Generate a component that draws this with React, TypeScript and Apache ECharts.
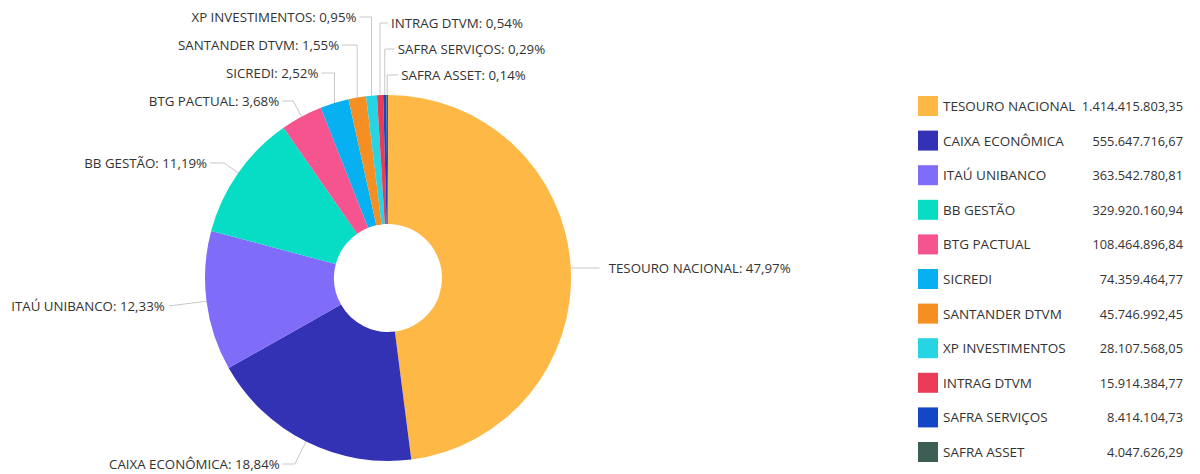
import React, { useEffect, useRef } from "react";
import * as echarts from "echarts";

const categories = [
  "TESOURO NACIONAL",
  "CAIXA ECONÔMICA",
  "ITAÚ UNIBANCO",
  "BB GESTÃO",
  "BTG PACTUAL",
  "SICREDI",
  "SANTANDER DTVM",
  "XP INVESTIMENTOS",
  "INTRAG DTVM",
  "SAFRA SERVIÇOS",
  "SAFRA ASSET",
];

const values = [
  1414415803.35, 555647716.67, 363542780.81, 329920160.94, 108464896.84,
  74359464.77, 45746992.45, 28107568.05, 15914384.77, 8414104.73, 4047626.29,
];

const colors = [
  "#FDB845",
  "#3432B4",
  "#7F6CF8",
  "#07DDC5",
  "#F5548F",
  "#06B0F1",
  "#F58E23",
  "#27D4E3",
  "#E93B55",
  "#1446C6",
  "#3C5E55",
];

// label placement (layout/styling only): label row y, leader style, horizontal run, side, text gap
const labelPlacement: { y: number; mode: string; h: number; side: string; gap: number }[] = [
  { y: 268, mode: "radial", h: 29, side: "right", gap: 9 },
  { y: 464, mode: "radial", h: 12, side: "left", gap: 3 },
  { y: 306, mode: "radial", h: 0, side: "left", gap: 4 },
  { y: 163, mode: "radial", h: 14, side: "left", gap: 3 },
  { y: 101, mode: "radial", h: 11, side: "left", gap: 3 },
  { y: 73, mode: "vertical", h: 13, side: "left", gap: 3 },
  { y: 45, mode: "vertical", h: 15, side: "left", gap: 3 },
  { y: 17, mode: "vertical", h: 12, side: "left", gap: 3 },
  { y: 23, mode: "vertical", h: 8, side: "right", gap: 3 },
  { y: 49, mode: "vertical", h: 10, side: "right", gap: 3 },
  { y: 75, mode: "vertical", h: 11, side: "right", gap: 3 },
];

function fmtBR(v: number): string {
  const fixed = v.toFixed(2);
  const [intPart, dec] = fixed.split(".");
  const withDots = intPart.replace(/\B(?=(\d{3})+(?!\d))/g, ".");
  return withDots + "," + dec;
}

export default function App() {
  const ref = useRef<HTMLDivElement>(null);
  useEffect(() => {
    if (!ref.current) return;
    const chart = echarts.init(ref.current, null, { renderer: "svg" });
    const font = "'Open Sans', sans-serif";
    const textColor = "#333333";
    const data = categories.map((name, i) => ({
      name,
      value: values[i],
      itemStyle: { color: colors[i] },
    }));
    const valueMap: Record<string, number> = {};
    categories.forEach((c, i) => (valueMap[c] = values[i]));
    chart.setOption({
      animation: false,
      backgroundColor: "#ffffff",
      legend: {
        orient: "vertical",
        left: 913,
        top: 91,
        itemWidth: 20,
        itemHeight: 20,
        itemGap: 14.6,
        icon: "rect",
        selectedMode: false,
        data: categories,
        formatter: (name: string) => `{n|${name}}{v|${fmtBR(valueMap[name])}}`,
        textStyle: {
          fontFamily: font,
          fontSize: 13,
          color: textColor,
          rich: {
            n: { width: 125, fontFamily: font, fontSize: 13.5, color: textColor },
            v: {
              width: 115,
              align: "right",
              fontFamily: font,
              fontSize: 12.8,
              color: textColor,
            },
          },
        },
      },
      series: [
        {
          type: "pie",
          center: [388, 278],
          radius: [54, 183],
          startAngle: 90,
          clockwise: true,
          avoidLabelOverlap: false,
          data,
          label: {
            show: true,
            position: "outside",
            fontFamily: font,
            fontSize: 13.3,
            color: textColor,
            formatter: (p: any) =>
              `${p.name}: ${p.percent.toFixed(2).replace(".", ",")}%`,
          },
          labelLine: {
            show: true,
            length: 12,
            length2: 22,
            lineStyle: { color: "#c8c8c8", width: 1 },
          },
          percentPrecision: 2,
          labelLayout: (params: any) => {
            const pl = labelPlacement[params.dataIndex];
            const pts = params.labelLinePoints;
            if (!pl || !pts || pts.length < 2) return {};
            const p0 = pts[0];
            const p1 = pts[1];
            let elbow: number[];
            if (pl.mode === "vertical") {
              elbow = [p0[0], pl.y];
            } else {
              const dx = p1[0] - p0[0];
              const dy = p1[1] - p0[1];
              const len = Math.hypot(dx, dy) || 1;
              const ux = dx / len;
              const uy = dy / len;
              let t = Math.abs(uy) > 1e-3 ? (pl.y - p0[1]) / uy : 0;
              if (t < 0) t = 0;
              elbow = [p0[0] + ux * t, pl.y];
            }
            const sign = pl.side === "left" ? -1 : 1;
            const end = [elbow[0] + sign * pl.h, pl.y];
            const textX = end[0] + sign * pl.gap;
            return {
              x: textX,
              y: pl.y,
              align: pl.side === "left" ? "right" : "left",
              verticalAlign: "middle",
              labelLinePoints: [p0, elbow, end],
            };
          },
        },
      ],
    });
    return () => chart.dispose();
  }, []);
  return (
    <div
      ref={ref}
      style={{
        position: "fixed",
        left: 0,
        top: 0,
        width: 1200,
        height: 474,
      }}
    />
  );
}
